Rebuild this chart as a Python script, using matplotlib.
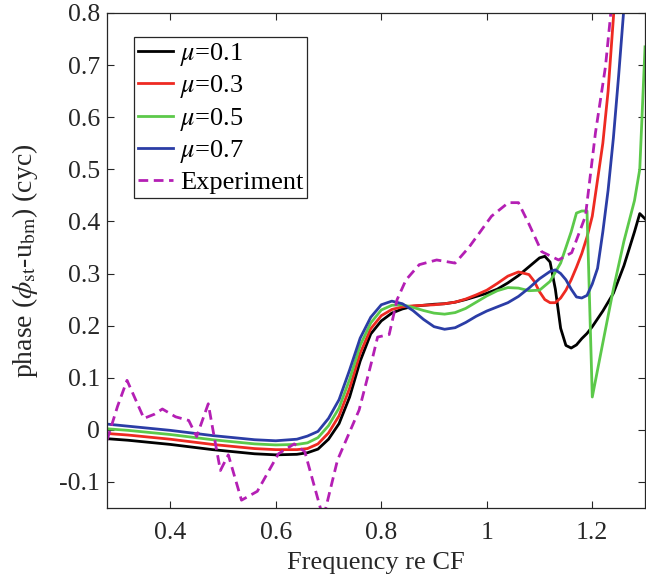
import numpy as np
import matplotlib
matplotlib.use('Agg')
import matplotlib.pyplot as plt

plt.rcParams['font.family'] = ['Liberation Serif', 'DejaVu Serif']
plt.rcParams['mathtext.fontset'] = 'stix'

# model curves
x_mu1 = [0.28, 0.32, 0.36, 0.40, 0.44, 0.48, 0.52, 0.56, 0.60, 0.64, 0.66, 0.68, 0.70, 0.72, 0.74,
         0.76, 0.78, 0.80, 0.82, 0.84, 0.86, 0.88, 0.90, 0.92, 0.94, 0.96, 0.98, 1.00, 1.02, 1.04,
         1.06, 1.08, 1.10, 1.11, 1.12, 1.13, 1.14, 1.15, 1.16, 1.17, 1.18, 1.19, 1.20, 1.22, 1.24,
         1.26, 1.28, 1.29, 1.30]
y_mu1 = [-0.017, -0.020, -0.024, -0.028, -0.033, -0.038, -0.042, -0.046, -0.048, -0.047, -0.044,
         -0.037, -0.018, 0.012, 0.063, 0.132, 0.184, 0.209, 0.224, 0.232, 0.237, 0.239, 0.241, 0.242,
         0.245, 0.250, 0.256, 0.262, 0.270, 0.282, 0.296, 0.313, 0.330, 0.333, 0.322, 0.270, 0.195,
         0.162, 0.157, 0.163, 0.175, 0.185, 0.198, 0.228, 0.262, 0.315, 0.380, 0.415, 0.405]

x_mu3 = [0.28, 0.32, 0.36, 0.40, 0.44, 0.48, 0.52, 0.56, 0.60, 0.64, 0.66, 0.68, 0.70, 0.72, 0.74,
         0.76, 0.78, 0.80, 0.82, 0.84, 0.86, 0.88, 0.90, 0.92, 0.94, 0.96, 0.98, 1.00, 1.02, 1.04,
         1.06, 1.08, 1.09, 1.10, 1.11, 1.12, 1.13, 1.14, 1.15, 1.16, 1.17, 1.18, 1.19, 1.20, 1.21,
         1.22, 1.23, 1.24, 1.25]
y_mu3 = [-0.007, -0.010, -0.014, -0.018, -0.023, -0.028, -0.032, -0.036, -0.038, -0.038, -0.036,
         -0.027, -0.006, 0.027, 0.080, 0.147, 0.194, 0.219, 0.231, 0.236, 0.238, 0.239, 0.240, 0.242,
         0.245, 0.251, 0.259, 0.268, 0.281, 0.295, 0.303, 0.298, 0.285, 0.265, 0.250, 0.244, 0.244,
         0.253, 0.268, 0.288, 0.312, 0.338, 0.370, 0.410, 0.480, 0.550, 0.650, 0.790, 0.950]

x_mu5 = [0.28, 0.32, 0.36, 0.40, 0.44, 0.48, 0.52, 0.56, 0.60, 0.64, 0.66, 0.68, 0.70, 0.72, 0.74,
         0.76, 0.78, 0.80, 0.82, 0.84, 0.86, 0.88, 0.90, 0.92, 0.94, 0.96, 0.98, 1.00, 1.02, 1.04,
         1.06, 1.08, 1.10, 1.12, 1.14, 1.16, 1.17, 1.18, 1.19, 1.20, 1.22, 1.24, 1.26, 1.28, 1.29,
         1.30]
y_mu5 = [0.002, -0.001, -0.005, -0.009, -0.014, -0.019, -0.023, -0.027, -0.029, -0.028, -0.025,
         -0.015, 0.008, 0.042, 0.097, 0.162, 0.205, 0.230, 0.239, 0.240, 0.235, 0.229, 0.224, 0.222,
         0.225, 0.233, 0.245, 0.257, 0.267, 0.273, 0.272, 0.267, 0.268, 0.285, 0.320, 0.380, 0.416,
         0.420, 0.420, 0.063, 0.167, 0.270, 0.362, 0.440, 0.500, 0.735]

x_mu7 = [0.28, 0.32, 0.36, 0.40, 0.44, 0.48, 0.52, 0.56, 0.60, 0.64, 0.66, 0.68, 0.70, 0.72, 0.74,
         0.76, 0.78, 0.80, 0.82, 0.84, 0.86, 0.88, 0.90, 0.92, 0.94, 0.96, 0.98, 1.00, 1.02, 1.04,
         1.06, 1.08, 1.10, 1.12, 1.13, 1.14, 1.15, 1.16, 1.17, 1.18, 1.19, 1.20, 1.21, 1.22, 1.23,
         1.24, 1.25, 1.26]
y_mu7 = [0.011, 0.007, 0.003, -0.001, -0.006, -0.011, -0.015, -0.019, -0.021, -0.018, -0.012,
         -0.003, 0.022, 0.058, 0.115, 0.176, 0.216, 0.240, 0.247, 0.242, 0.229, 0.212, 0.198, 0.193,
         0.196, 0.206, 0.218, 0.228, 0.236, 0.244, 0.256, 0.272, 0.290, 0.304, 0.307, 0.300, 0.288,
         0.270, 0.255, 0.253, 0.258, 0.280, 0.310, 0.380, 0.460, 0.560, 0.680, 0.810]

# experiment
x_exp = [0.28, 0.30, 0.318, 0.35, 0.37, 0.385, 0.41, 0.435, 0.45, 0.472, 0.483, 0.495, 0.51,
         0.535, 0.565, 0.605, 0.635, 0.655, 0.69, 0.717, 0.758, 0.781, 0.793, 0.815, 0.83, 0.847,
         0.872, 0.905, 0.94, 0.966, 1.009, 1.041, 1.06, 1.079, 1.104, 1.136, 1.161, 1.187, 1.206,
         1.225, 1.24]
y_exp = [-0.02, 0.045, 0.095, 0.022, 0.030, 0.040, 0.025, 0.018, -0.013, 0.050, -0.012, -0.078,
         -0.048, -0.135, -0.118, -0.046, -0.027, -0.042, -0.170, -0.058, 0.038, 0.128, 0.178, 0.183,
         0.250, 0.288, 0.317, 0.326, 0.320, 0.350, 0.410, 0.436, 0.436, 0.397, 0.342, 0.326, 0.340,
         0.410, 0.570, 0.697, 0.850]

labels = [r'$\mu$=0.1', r'$\mu$=0.3', r'$\mu$=0.5', r'$\mu$=0.7', 'Experiment']
colors = ['#000000', '#ee2a22', '#5cc94a', '#2b3da6', '#b41fb4']

fig = plt.figure(figsize=(6.46, 5.77), dpi=100)
ax = fig.add_axes([0.1656, 0.1196, 0.8329, 0.8579])

ax.plot(x_mu1, y_mu1, color=colors[0], lw=2, label=labels[0])
ax.plot(x_mu3, y_mu3, color=colors[1], lw=2, label=labels[1])
ax.plot(x_mu5, y_mu5, color=colors[2], lw=2, label=labels[2])
ax.plot(x_mu7, y_mu7, color=colors[3], lw=2, label=labels[3])
ax.plot(x_exp, y_exp, color=colors[4], lw=2, linestyle=(0, (3.5, 2)), label=labels[4])

ax.set_xlim(0.28, 1.3)
ax.set_ylim(-0.15, 0.8)
ax.set_xticks([0.4, 0.6, 0.8, 1.0, 1.2])
ax.set_xticklabels(['0.4', '0.6', '0.8', '1', '1.2'])
ax.set_yticks([-0.1, 0, 0.1, 0.2, 0.3, 0.4, 0.5, 0.6, 0.7, 0.8])
ax.set_yticklabels(['-0.1', '0', '0.1', '0.2', '0.3', '0.4', '0.5', '0.6', '0.7', '0.8'])

axc = '#262626'
for s in ax.spines.values():
    s.set_color(axc)
    s.set_linewidth(0.9)
ax.tick_params(direction='in', top=True, right=True, length=5, width=0.8,
               colors=axc, labelsize=18.5)
ax.tick_params(axis='y', pad=5)
ax.tick_params(axis='x', pad=10)

ax.set_xlabel('Frequency re CF', fontsize=19, color=axc, labelpad=6)
ax.set_ylabel(r'phase ($\phi_{\rm st}$-u$_{\rm bm}$) (cyc)', fontsize=20, color=axc, labelpad=14)

leg = ax.legend(loc='upper left', bbox_to_anchor=(0.05, 0.951), borderaxespad=0,
                fontsize=19, frameon=True, fancybox=False, framealpha=1,
                handlelength=1.33, handletextpad=0.27, labelspacing=0.2, borderpad=0.15)
leg.get_frame().set_edgecolor(axc)
leg.get_frame().set_linewidth(0.9)

fig.savefig('out.png', dpi=100)
